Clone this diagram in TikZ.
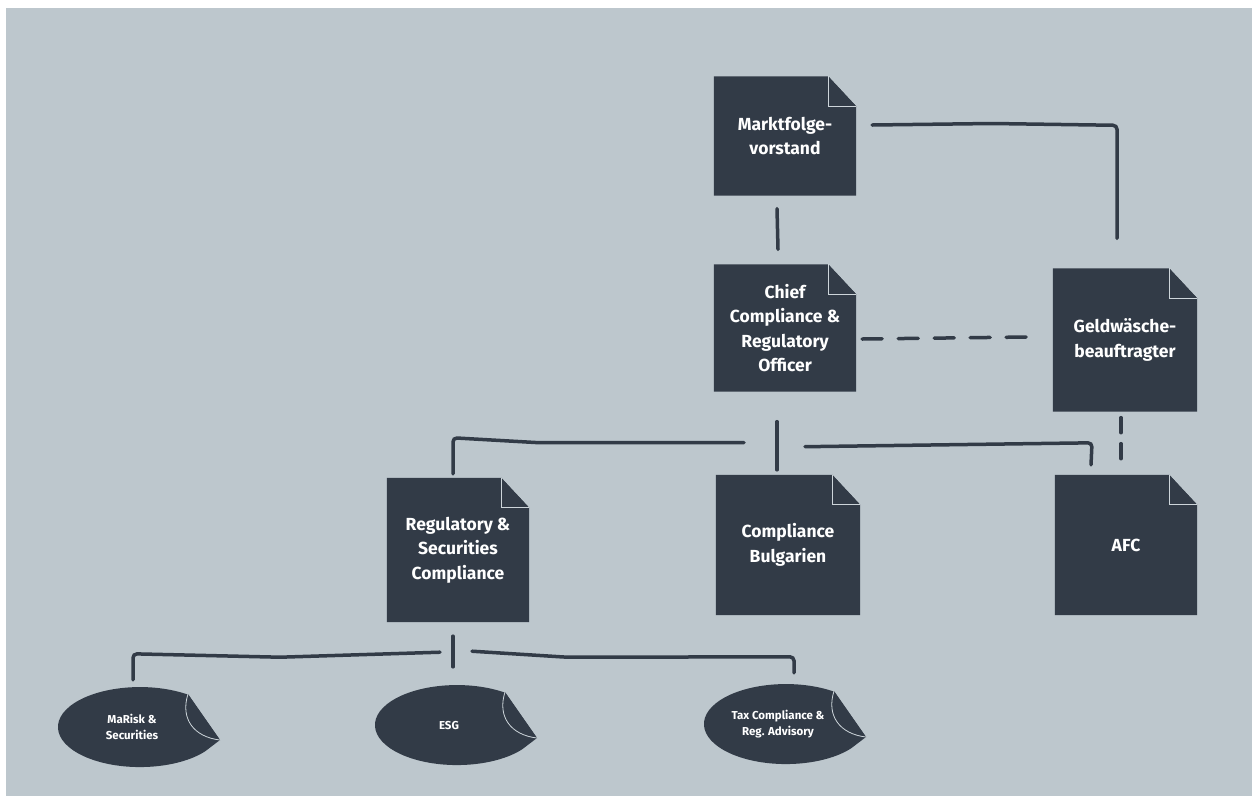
\documentclass[tikz,border=0pt]{standalone}
\usepackage{fontspec}
\setmainfont{Fira Sans}
\usepackage{tikz}
\usetikzlibrary{positioning}

\definecolor{paper}{RGB}{189,199,205}
\definecolor{sheetcol}{RGB}{50,59,71}
\definecolor{foldcol}{RGB}{205,213,218}

\pgfdeclarelayer{paperlayer}
\pgfdeclarelayer{sheetlayer}
\pgfsetlayers{paperlayer,sheetlayer,main}

\tikzset{
  docbox/.style={align=center, text=white, inner sep=0pt, minimum width=142pt,
    font=\fontsize{17.5}{24.5}\selectfont\bfseries},
  leaf/.style={align=center, text=white, inner sep=0pt, minimum width=150pt, minimum height=80pt,
    font=\fontsize{11.5}{16}\selectfont\bfseries},
  sheet/.style={fill=sheetcol},
  fold/.style={fill=sheetcol, draw=foldcol, line width=0.8pt},
  link/.style={draw=sheetcol, line width=3.5pt, line cap=round, rounded corners=4pt},
  dashlink/.style={link, dash pattern=on 20pt off 16pt}
}

% folded sheet behind a box node
\newcommand{\docsheet}[1]{%
  \fill[sheet] (#1.north west) -- ([xshift=-28pt]#1.north east) -- ([yshift=-30pt]#1.north east)
    -- (#1.south east) -- (#1.south west) -- cycle;
  \filldraw[fold] ([xshift=-28pt]#1.north east) -- ([xshift=-28pt,yshift=-30pt]#1.north east)
    -- ([yshift=-30pt]#1.north east);
}
% curled ellipse behind a leaf node
\newcommand{\leafsheet}[1]{%
  \fill[sheet] ([shift={(8pt+65pt,-24.4pt)}]#1.center)
    arc[start angle=-37.5, end angle=-306, x radius=82pt, y radius=40pt]
    -- ([shift={(88pt,-13pt)}]#1.center) -- cycle;
  \draw[fold] ([shift={(56pt,33pt)}]#1.center) .. controls ([shift={(48pt,8pt)}]#1.center)
    and ([shift={(62pt,-10pt)}]#1.center) .. ([shift={(88pt,-13pt)}]#1.center);
}

\begin{document}
\begin{tikzpicture}[x=1pt, y=-1pt]
\useasboundingbox (0,0) rectangle (1252,796);

% boxes
\node[docbox, minimum height=119pt] (markt) at (785,136) {Marktfolge-\\vorstand};
\node[docbox, minimum height=127pt] (cco) at (785,328) {Chief\\Compliance \&\\Regulatory\\Officer};
\node[docbox, minimum height=143pt, minimum width=144pt] (gw) at (1125,340) {Geldwäsche-\\beauftragter};
\node[docbox, minimum height=144pt] (reg) at (458,550) {Regulatory \&\\Securities\\Compliance};
\node[docbox, minimum height=140pt, minimum width=144pt] (bulg) at (788,545) {Compliance\\Bulgarien};
\node[docbox, minimum height=140pt] (afc) at (1126,545) {AFC};

% leaves
\node[leaf] (marisk) at (132,727) {MaRisk \&\\Securities};
\node[leaf] (esg) at (449,725) {ESG};
\node[leaf] (tax) at (778,724) {Tax Compliance \&\\Reg. Advisory};

\begin{pgfonlayer}{paperlayer}
\fill[white] (0,0) rectangle (1252,796);
\fill[paper] (6,8) rectangle (1252,796);
\end{pgfonlayer}

\begin{pgfonlayer}{sheetlayer}
\foreach \n in {markt,cco,gw,reg,bulg,afc} {\docsheet{\n}}
\foreach \n in {marisk,esg,tax} {\leafsheet{\n}}
\end{pgfonlayer}

% connectors
\draw[link] ([xshift=16pt,yshift=11pt]markt.east) -- ++(120pt,1.5pt)
  -- ([xshift=-8pt,yshift=143pt]gw.north) -- ([xshift=-8pt,yshift=30pt]gw.north);
\draw[link] ([xshift=-8pt,yshift=-13pt]markt.south) -- ([xshift=-7pt,yshift=15pt]cco.north);
\draw[dashlink] ([xshift=6pt,yshift=-11pt]cco.east) -- ([xshift=-25pt,yshift=3pt]gw.west);
\draw[link, dash pattern=on 15pt off 11pt] ([xshift=-4pt,yshift=-6pt]gw.south) -- ([xshift=-5pt,yshift=14pt]afc.north);

\draw[link] ([xshift=-8pt,yshift=-30pt]cco.south) -- ([xshift=-11pt,yshift=5pt]bulg.north);
\draw[link] ([xshift=-41pt,yshift=-51pt]cco.south) -- ++(-205pt,0pt)
  -- ([xshift=-5pt,yshift=40pt]reg.north) -- ([xshift=-5pt,yshift=4pt]reg.north);
\draw[link] ([xshift=20pt,yshift=-55pt]cco.south) -- ([xshift=-34pt,yshift=32pt]afc.north)
  -- ([xshift=-35pt,yshift=10pt]afc.north);

\draw[link] ([xshift=-5pt,yshift=-14pt]reg.south) -- ([xshift=4pt,yshift=18pt]esg.north);
\draw[link] ([xshift=-18pt,yshift=-30pt]reg.south) -- ++(-160pt,-5pt)
  -- ([xshift=1pt,yshift=33pt]marisk.north) -- ([xshift=1pt,yshift=7pt]marisk.north);
\draw[link] ([xshift=14pt,yshift=-29pt]reg.south) -- ++(95pt,-6pt)
  -- ([xshift=16pt,yshift=27pt]tax.north) -- ([xshift=16pt,yshift=11pt]tax.north);
\end{tikzpicture}
\end{document}
